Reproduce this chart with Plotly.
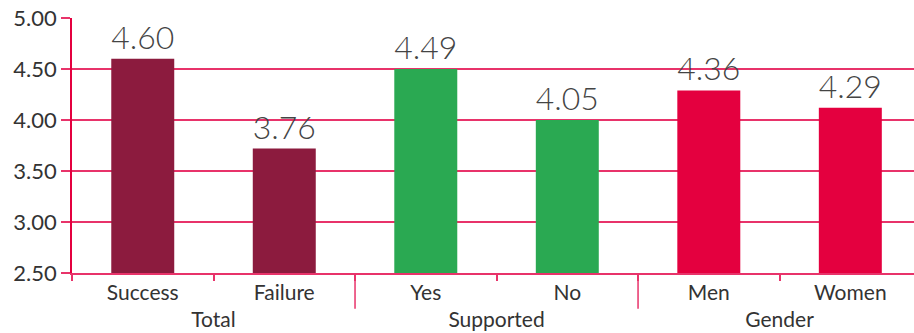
import plotly.graph_objects as go

groups = ["Total", "Total", "Supported", "Supported", "Gender", "Gender"]
categories = ["Success", "Failure", "Yes", "No", "Men", "Women"]
bar_values = [4.60, 3.72, 4.50, 4.00, 4.29, 4.12]
value_labels = ["4.60", "3.76", "4.49", "4.05", "4.36", "4.29"]
bar_colors = ["#8C1B3E", "#8C1B3E", "#2AA952", "#2AA952", "#E4003F", "#E4003F"]
y_ticks = [2.5, 3.0, 3.5, 4.0, 4.5, 5.0]
y_tick_labels = ["2.50", "3.00", "3.50", "4.00", "4.50", "5.00"]

fig = go.Figure(go.Bar(
    x=[groups, categories],
    y=[v - 2.5 for v in bar_values],
    base=2.5,
    marker=dict(color=bar_colors, line=dict(width=0)),
    text=value_labels,
    textposition="outside",
    textfont=dict(family="Lato", size=32, color="#444444", weight=300),
    cliponaxis=False,
))

pink = "#E8336A"
# group dividers between category groups (boundaries between group blocks)
n_per_group = 2
for k in range(1, len(categories) // n_per_group):
    b = k * n_per_group - 0.5
    fig.add_shape(type="line", xref="x", yref="paper", x0=b, x1=b, y0=0, y1=-0.14,
                  line=dict(color=pink, width=1.5), layer="above")

fig.update_layout(
    width=914, height=333,
    margin=dict(l=72, r=0, t=18, b=60, autoexpand=False),
    paper_bgcolor="white", plot_bgcolor="white",
    bargap=0.555,
    showlegend=False,
    font=dict(family="Lato", color="#333333"),
    xaxis=dict(
        type="multicategory",
        range=[-0.5, 5.45],
        automargin=False,
        showline=True, linecolor=pink, linewidth=1.5,
        ticks="outside", tickson="boundaries", ticklen=6, tickcolor=pink, tickwidth=1.5,
        showdividers=False,
        tickfont=dict(size=21, color="#333333"),
        showgrid=False,
    ),
    yaxis=dict(
        range=[2.5, 5.0],
        automargin=False,
        tickvals=y_ticks, ticktext=y_tick_labels,
        showgrid=True, gridcolor=pink, gridwidth=1.5,
        showline=True, linecolor="#E4003F", linewidth=1.5,
        ticks="outside", ticklen=9, tickcolor=pink, tickwidth=1.5,
        tickfont=dict(size=22, color="#333333"),
        zeroline=False,
    ),
)

fig.write_html("out.html")
